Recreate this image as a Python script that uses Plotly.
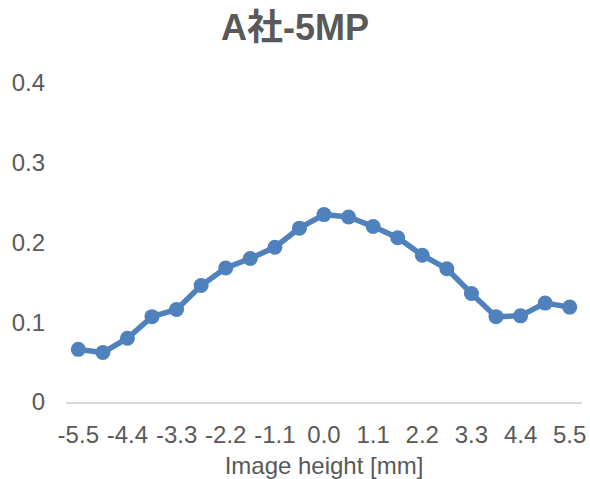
import plotly.graph_objects as go

# Image height positions [mm] and measured values
image_height = [-5.5, -4.95, -4.4, -3.85, -3.3, -2.75, -2.2, -1.65, -1.1, -0.55,
                0.0, 0.55, 1.1, 1.65, 2.2, 2.75, 3.3, 3.85, 4.4, 4.95, 5.5]
values = [0.066, 0.062, 0.080, 0.107, 0.116, 0.146, 0.168, 0.180, 0.194, 0.218,
          0.235, 0.232, 0.220, 0.206, 0.184, 0.167, 0.136, 0.107, 0.108, 0.124, 0.119]
x_ticks = [-5.5, -4.4, -3.3, -2.2, -1.1, 0.0, 1.1, 2.2, 3.3, 4.4, 5.5]
y_ticks = [0, 0.1, 0.2, 0.3, 0.4]

LINE = "#4F81BD"
TEXT = "#595959"
FONT = "Liberation Sans, Arial, Noto Sans CJK JP, sans-serif"

fig = go.Figure(go.Scatter(
    x=image_height, y=values, mode="lines+markers",
    line=dict(color=LINE, width=5.5),
    marker=dict(color=LINE, size=15),
    showlegend=False,
))

fig.update_layout(
    width=590, height=479,
    margin=dict(l=66, r=8, t=83, b=77),
    paper_bgcolor="white", plot_bgcolor="white",
    font=dict(family=FONT, color=TEXT, size=24),
    title=dict(text="<b>A社-5MP</b>", x=0.5, xanchor="center",
               y=1 - 27 / 479, yanchor="middle", yref="container",
               font=dict(size=36, color=TEXT, family=FONT)),
    xaxis=dict(
        range=[-5.775, 5.775], tickmode="array", tickvals=x_ticks,
        ticktext=[f"{v:.1f}" for v in x_ticks],
        showgrid=False, zeroline=False, showline=True,
        linecolor="#D9D9D9", linewidth=1.5, ticks="",
        ticklabelstandoff=10, automargin=False,
        tickfont=dict(size=24, color=TEXT),
        title=dict(text="Image height [mm]", standoff=11,
                   font=dict(size=24, color=TEXT)),
    ),
    yaxis=dict(
        range=[0, 0.4], tickmode="array", tickvals=y_ticks,
        ticktext=["0", "0.1", "0.2", "0.3", "0.4"],
        showgrid=False, zeroline=False, showline=False, ticks="",
        ticklabelstandoff=20, automargin=False,
        tickfont=dict(size=24, color=TEXT),
    ),
)

fig.write_html("out.html")
